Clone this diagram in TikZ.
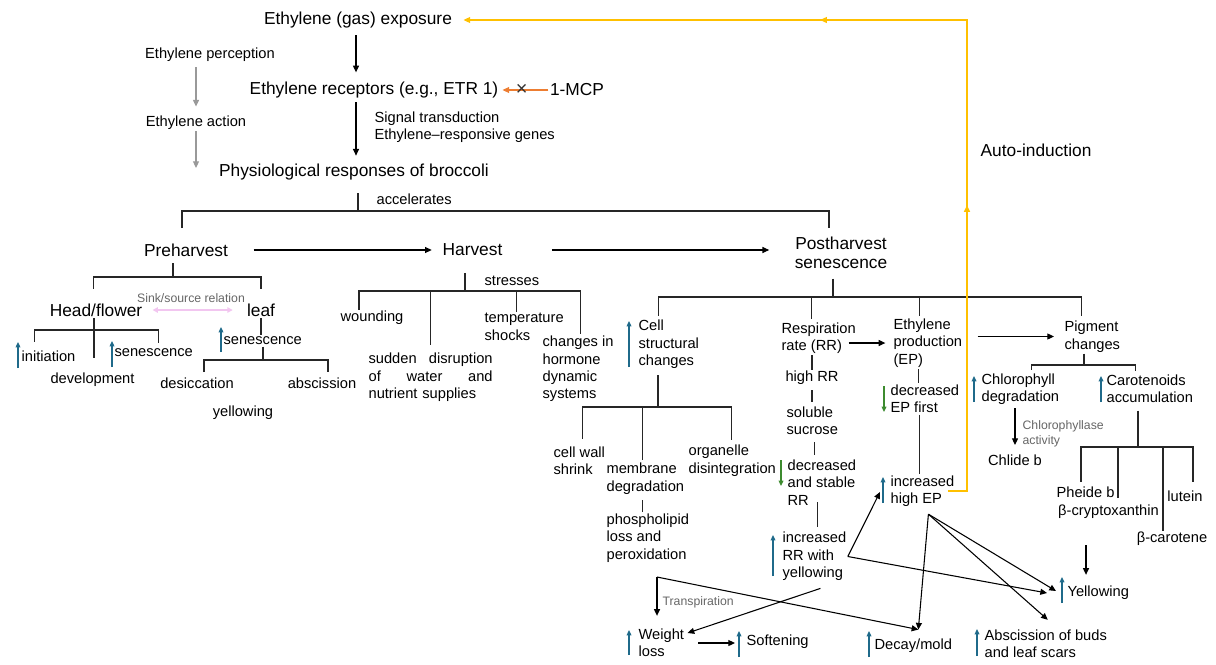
\documentclass[tikz,border=0pt]{standalone}
\usepackage{fontspec}
\setmainfont{Liberation Sans}
\usetikzlibrary{positioning,calc,arrows.meta,decorations.markings}
\definecolor{upblue}{HTML}{1F6A8A}
\definecolor{dngreen}{HTML}{3D8B2F}
\definecolor{mcporange}{HTML}{ED7D31}
\definecolor{autoyel}{HTML}{FFC000}
\definecolor{sinkpink}{HTML}{F2C6F0}

\begin{document}
\begin{tikzpicture}[
  x=0.75pt, y=-0.75pt,
  bigtxt/.style={font=\fontsize{13}{14.3}\selectfont, inner sep=1pt, align=center},
  midtxt/.style={font=\fontsize{11}{13.1}\selectfont, inner sep=1pt, align=left},
  smltxt/.style={font=\fontsize{9.2}{11.2}\selectfont, text=black!60, inner sep=1pt, align=left},
  link/.style={line width=0.8pt, black!85},
  stub/.style={line width=1.2pt},
  arr/.style={-{Triangle[length=5pt,width=4.5pt]}, line width=0.8pt},
  garr/.style={arr, gray!80},
  uparr/.style={-{Triangle[length=4pt,width=3.5pt]}, line width=0.9pt, upblue},
  dnarr/.style={uparr, dngreen},
  yarr/.style={-{Triangle[length=5pt,width=4.5pt]}, line width=1pt, autoyel,
    postaction={decorate}, decoration={markings,
      mark=at position 0.307 with {\arrow{Triangle[length=5pt,width=4.5pt]}},
      mark=at position 0.641 with {\arrow{Triangle[length=5pt,width=4.5pt]}}}}]
\useasboundingbox (0,0) rectangle (1216,664);

% ethylene signalling
\node[bigtxt] (expo) at (358,20) {Ethylene (gas) exposure};
\node[bigtxt] (recep) at (374,90) {Ethylene receptors (e.g., ETR 1)};
\node[bigtxt] (mcp) at (577,90) {1-MCP};
\node[bigtxt] (physio) at (354,172) {Physiological responses of broccoli};
\node[midtxt] (perc) at (210,55) {Ethylene perception};
\node[midtxt] (action) at (196,123) {Ethylene action};
\node[midtxt, anchor=west] (signal) at (373,127) {Signal transduction\\Ethylene–responsive genes};
\node[bigtxt] (auto) at (1036,150) {Auto-induction};
\coordinate (spine) at (356,0);
\draw[arr, shorten <=4pt, shorten >=6pt] (expo.south -| spine) -- (recep.north -| spine);
\draw[arr, shorten <=2pt, shorten >=5pt] (recep.south -| spine) -- (physio.north -| spine);
\draw[garr, shorten <=3pt, shorten >=6pt] (perc.south -| action.north) -- (action.north);
\draw[garr, shorten >=3pt] (action.south) -- (action.south |- physio.west);
\draw[arr, mcporange, shorten >=2pt] (mcp.west) -- node[pos=0.55, inner sep=0, font=\fontsize{15}{15}\selectfont, text=black!80]{×} (recep.east);

% three stages
\coordinate (accb) at (358,211);
\draw[link, stub, shorten <=8.5pt] (physio.south -| accb) -- (accb);
\node[midtxt, anchor=west] (accel) at (375,199) {accelerates};
\node[bigtxt] (pre) at (186,250) {Preharvest};
\node[bigtxt] (harv) at (472.5,250) {Harvest};
\node[bigtxt] (post) at (841,252.5) {Postharvest\\senescence};
\draw[link, shorten <=10.5pt, shorten >=5.5pt] ([xshift=-3pt]pre.north) |- (accb) -| ([xshift=-9pt]post.north);
\draw[arr, shorten <=18pt, shorten >=7pt] (pre.east) -- (harv.west);
\draw[arr, shorten <=36pt, shorten >=18pt] (harv.east) -- (harv.east -| post.west);

% preharvest
\coordinate (preb) at (173,277);
\draw[link, stub, shorten <=4pt] (pre.south -| preb) -- (preb);
\node[bigtxt] (head) at (96,310) {Head/flower};
\node[bigtxt] (leaf) at (261,310) {leaf};
\draw[link, shorten <=10pt, shorten >=10pt] ([xshift=-2pt]head.north) |- (preb) -| (leaf.north);
\node[smltxt] (sink) at (191,298) {Sink/source relation};
\draw[{Triangle[length=4pt,width=4pt]}-{Triangle[length=4pt,width=4pt]}, sinkpink, line width=1pt,
  shorten <=6.5pt, shorten >=9.5pt] (head.east) -- (leaf.west);

\coordinate (headb) at (94,330);
\node[midtxt, anchor=west] (init) at (20,356) {initiation};
\node[midtxt] (dev) at (92.5,380) {development};
\node[midtxt, anchor=west] (hsen) at (113,353) {senescence};
\draw[link, shorten >=10pt] (head.south -| headb) -- (headb |- dev.north);
\draw[link, shorten <=5.5pt, shorten >=3pt] ([xshift=-10.3pt]init.north) |- (headb) -| ([xshift=3.4pt]hsen.north);
\draw[uparr] ([shift={(-2,12)}]init.west) -- ([shift={(-2,-14)}]init.west);
\draw[uparr] ([shift={(-1,14)}]hsen.west) -- ([shift={(-1,-12)}]hsen.west);

\node[midtxt, anchor=west] (lsen) at (222,341) {senescence};
\draw[link] (leaf.south) -- (leaf.south |- lsen.north);
\draw[uparr] ([shift={(-1,11)}]lsen.west) -- ([shift={(-1,-14)}]lsen.west);
\coordinate (lsenb) at (263,360);
\draw[link] (lsen.south -| lsenb) -- (lsenb);
\node[midtxt] (desic) at (197,383) {desiccation};
\node[midtxt] (absc) at (322,383) {abscission};
\node[midtxt] (yelw) at (243,413) {yellowing};
\draw[link, shorten <=3pt, shorten >=3pt] ([xshift=5.25pt]desic.north) |- (lsenb) -| ([xshift=4.5pt]absc.north);

% harvest
\coordinate (harvb) at (465,291);
\draw[link, stub, shorten <=11.5pt] (harv.south -| harvb) -- (harvb);
\node[midtxt, anchor=west] (stress) at (483,281) {stresses};
\node[midtxt] (wound) at (372,318) {wounding};
\node[midtxt, anchor=west, text width=93pt] (sudden) at (367,377.5)
  {sudden\hfill disruption\\of\hfill water\hfill and\\nutrient supplies};
\node[midtxt, anchor=west] (temp) at (483,327) {temperature\\shocks};
\node[midtxt, anchor=west] (horm) at (541,369) {changes in\\hormone\\dynamic\\systems};
\draw[link] ([xshift=-9.75pt]wound.north) |- (harvb) -| ([xshift=2pt]horm.north);
\draw[link, shorten >=4.8pt] (harvb -| sudden.north) -- (sudden.north);
\draw[link] ([xshift=-5.6pt]temp.north |- harvb) -- ([xshift=-5.6pt]temp.north);

% postharvest senescence
\coordinate (postb) at (833,297);
\draw[link, stub, shorten <=6.5pt] (post.south -| postb) -- (postb);
\node[midtxt, anchor=west] (cell) at (637,344.5) {Cell\\structural\\changes};
\node[midtxt, anchor=west] (rr) at (780,338) {Respiration\\rate (RR)};
\node[midtxt, anchor=west] (ep) at (892,343) {Ethylene\\production\\(EP)};
\node[midtxt, anchor=west] (pig) at (1063,336.5) {Pigment\\changes};
\draw[link, shorten <=2pt, shorten >=2.6pt] ([xshift=-8pt]cell.north) |- (postb) -| ([xshift=-8pt]pig.north);
\draw[link, shorten >=1.5pt] ([xshift=-5.25pt]rr.north |- postb) -- ([xshift=-5.25pt]rr.north);
\draw[link, shorten >=1pt] ([xshift=-6.5pt]ep.north |- postb) -- ([xshift=-6.5pt]ep.north);
\draw[uparr] ([shift={(-8,22.5)}]cell.west) -- ([shift={(-8,-23.5)}]cell.west);
\draw[arr, shorten <=-6.5pt, shorten >=5pt] (rr.east |- ep.west) -- (ep.west);
\draw[arr, shorten <=10.5pt, shorten >=6.75pt] (ep.east |- pig.west) -- (pig.west);

% cell structure
\coordinate (cellb) at (658,407);
\draw[link, stub, shorten <=3.75pt] (cell.south -| cellb) -- (cellb);
\node[midtxt, anchor=west] (wall) at (552,460.5) {cell wall\\shrink};
\node[midtxt, anchor=west] (memb) at (605,478.5) {membrane\\degradation};
\node[midtxt, anchor=west] (organ) at (687,460.5) {organelle\\disintegration};
\node[midtxt, anchor=west] (phos) at (605,538) {phospholipid\\loss and\\peroxidation};
\draw[link, shorten <=4.6pt, shorten >=2.7pt] ([xshift=2.3pt]wall.north) |- (cellb) -| ([xshift=-0.75pt]organ.north);
\draw[link, shorten >=1pt] ([xshift=-2.25pt]memb.north |- cellb) -- ([xshift=-2.25pt]memb.north);
\draw[link, shorten <=3.5pt] ([xshift=-2.25pt]memb.south) -- ([xshift=-2.25pt]memb.south |- phos.north);

% respiration
\node[midtxt] (highrr) at (812,378) {high RR};
\node[midtxt, anchor=west] (sucr) at (785,420.5) {soluble\\sucrose};
\node[midtxt, anchor=west] (decrr) at (786,482.5) {decreased\\and stable\\RR};
\node[midtxt, anchor=west] (incrr) at (781,556.5) {increased\\RR with\\yellowing};
\draw[link] (highrr.north |- rr.south) -- (highrr.north);
\draw[link, shorten <=3pt, shorten >=2pt] (highrr.south) -- (highrr.south |- sucr.north);
\draw[link, shorten <=4.5pt, shorten >=2.5pt] ([xshift=1.5pt]sucr.south) -- ([xshift=1.5pt]sucr.south |- decrr.north);
\draw[link, shorten <=-3.5pt, shorten >=3pt] ([xshift=2.25pt]incrr.north |- decrr.south) -- ([xshift=2.25pt]incrr.north);
\draw[dnarr] ([shift={(-5,-22.5)}]decrr.west) -- ([shift={(-5,3.5)}]decrr.west);
\draw[uparr] ([shift={(-8,19.5)}]incrr.west) -- ([shift={(-8,-21.5)}]incrr.west);

% ethylene production
\node[midtxt, anchor=west] (decep) at (889,399) {decreased\\EP first};
\node[midtxt, anchor=west] (incep) at (889,491) {increased\\high EP};
\draw[link] ([xshift=-4.5pt]decep.north |- ep.south) -- ([xshift=-4.5pt]decep.north);
\draw[link] ([xshift=-2.25pt]incep.north |- decep.south) -- ([xshift=-2.25pt]incep.north);
\draw[dnarr] ([shift={(-5,-13)}]decep.west) -- ([shift={(-5,13)}]decep.west);
\draw[uparr] ([shift={(-6,12)}]incep.west) -- ([shift={(-6,-14)}]incep.west);

% pigments
\coordinate (pigb) at (1084,365);
\draw[link, stub] (pig.south -| pigb) -- (pigb);
\node[midtxt, anchor=west] (chloro) at (980,389) {Chlorophyll\\degradation};
\node[midtxt, anchor=west] (carot) at (1105,389) {Carotenoids\\accumulation};
\draw[link, shorten <=1.5pt, shorten >=1.5pt] ([xshift=8.25pt]chloro.north) |- (pigb) -| ([xshift=-10.9pt]carot.north);
\draw[uparr] ([shift={(-6,13)}]chloro.west) -- ([shift={(-6,-13)}]chloro.west);
\draw[uparr] ([shift={(-4,13)}]carot.west) -- ([shift={(-4,-13)}]carot.west);
\node[midtxt] (chlide) at (1015,460) {Chlide b};
\node[smltxt, anchor=west] (chlase) at (1021,433.5) {Chlorophyllase\\activity};
\draw[arr, shorten <=1.5pt, shorten >=6pt] (chloro.south -| chlide.north) -- (chlide.north);

\coordinate (carb) at (1138,447);
\draw[link, stub, shorten <=4.5pt] (carot.south -| carb) -- (carb);
\node[midtxt] (pheide) at (1085.5,492) {Pheide b};
\node[midtxt] (crypto) at (1108.5,512) {β-cryptoxanthin};
\node[midtxt] (lutein) at (1185,496) {lutein};
\node[midtxt] (bcar) at (1172,539) {β-carotene};
\draw[link, shorten <=2.5pt, shorten >=5.5pt] ([xshift=-3.4pt]pheide.north) |- (carb) -| ([xshift=6pt]lutein.north);
\draw[link, shorten >=4.3pt] ([xshift=7.1pt]crypto.north |- carb) -- ([xshift=7.1pt]crypto.north);
\draw[link] ([xshift=-6.75pt]bcar.north |- carb) -- ([xshift=-6.75pt]bcar.north);

% outcomes
\node[midtxt, anchor=west] (yell) at (1066,593) {Yellowing};
\coordinate (carout) at (1086,545);
\draw[arr, shorten >=7.3pt] (carout) -- (carout |- yell.north);
\draw[uparr] ([shift={(-4,10)}]yell.west) -- ([shift={(-4,-16)}]yell.west);

\node[midtxt, anchor=west] (weight) at (637,643) {Weight\\loss};
\node[midtxt, anchor=west] (soft) at (745,642) {Softening};
\node[midtxt, anchor=west] (decay) at (873,646) {Decay/mold};
\node[midtxt, anchor=west] (absc2) at (983,643.5) {Abscission of buds\\and leaf scars};
\node[smltxt, anchor=west] (transp) at (661,602) {Transpiration};
\coordinate (tcorner) at (657,577);
\draw[arr, shorten <=9.5pt, shorten >=7.5pt] (weight.east) -- (weight.east -| soft.west);
\draw[arr, shorten >=8.6pt] (tcorner) -- (tcorner |- weight.north);
\draw[arr] (tcorner) -- ([shift={(5,-8)}]decay.north);
\draw[uparr] ([shift={(-8,12)}]weight.west) -- ([shift={(-8,-13)}]weight.west);
\draw[uparr] ([shift={(-6,15)}]soft.west) -- ([shift={(-6,-11)}]soft.west);
\draw[uparr] ([shift={(-4,11)}]decay.west) -- ([shift={(-4,-15)}]decay.west);
\draw[uparr] ([shift={(-6,12.5)}]absc2.west) -- ([shift={(-6,-14.5)}]absc2.west);

\draw[arr] ([shift={(6,6)}]incrr.south) -- ([shift={(2,-10)}]weight.east);
\draw[arr] (incrr.east) -- ([shift={(-9,1)}]incep.west);
\draw[arr] (incrr.east) -- ([shift={(-19,0)}]yell.west);
\draw[arr] ([shift={(6,6)}]incep.south) -- ([shift={(5,-8)}]decay.north);
\draw[arr] ([shift={(6,6)}]incep.south) -- ([shift={(-10,-2)}]yell.west);
\draw[arr] ([shift={(6,6)}]incep.south) -- ([shift={(2,-8)}]absc2.north);

% auto-induction loop
\coordinate (autocol) at (967,0);
\draw[yarr] ([xshift=-6pt]incep.east) -| (autocol |- expo.east) -- ([xshift=7.5pt]expo.east);
\end{tikzpicture}
\end{document}
